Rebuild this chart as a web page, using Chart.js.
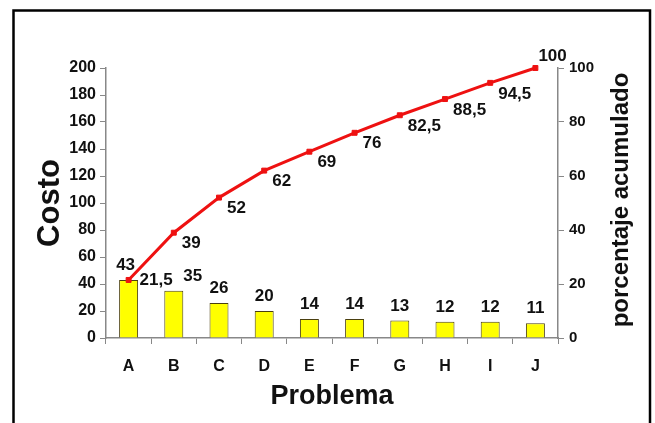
<!DOCTYPE html>
<html>
<head>
<meta charset="utf-8">
<script src="https://cdn.jsdelivr.net/npm/chart.js@4"></script>
<style>
  html, body { margin: 0; padding: 0; background: #fff; }
  #wrap { width: 655px; height: 423px; position: relative; }
</style>
</head>
<body>
<div id="wrap"><canvas id="c" width="655" height="423"></canvas></div>
<script>
// ---- data ----
const categories = ['A', 'B', 'C', 'D', 'E', 'F', 'G', 'H', 'I', 'J'];
const costValues = [43, 35, 26, 20, 14, 14, 13, 12, 12, 11];
const cumulativePercent = [21.5, 39, 52, 62, 69, 76, 82.5, 88.5, 94.5, 100];
const leftTicks = [0, 20, 40, 60, 80, 100, 120, 140, 160, 180, 200];
const rightTicks = [0, 20, 40, 60, 80, 100];
const xTitle = 'Problema';
const leftTitle = 'Costo';
const rightTitle = 'porcentaje acumulado';

const FONT = '"Liberation Sans", Arial, sans-serif';
const fmt = v => String(v).replace('.', ',');

// layout targets
const AREA = { left: 106, right: 558, top: 68, bottom: 338 };
const W = 655, H = 423;

const labelPlugin = {
  id: 'valueLabels',
  afterDatasetsDraw(chart, args, opts) {
    const ctx = chart.ctx;
    ctx.save();
    ctx.fillStyle = '#111';
    ctx.font = 'bold 17px ' + FONT;
    // bar labels
    const barMeta = chart.getDatasetMeta(1);
    ctx.textAlign = 'center';
    ctx.textBaseline = 'bottom';
    barMeta.data.forEach((el, i) => {
      const dx = (opts.barDx && opts.barDx[i]) || 0;
      ctx.fillText(fmt(costValues[i]), el.x + dx, el.y - 6);
    });
    // line labels
    const lineMeta = chart.getDatasetMeta(0);
    ctx.textAlign = 'left';
    ctx.textBaseline = 'middle';
    lineMeta.data.forEach((el, i) => {
      let dx = 8, dy = 11;
      if (i === 0) { dx = 11; dy = 0; }
      if (i === lineMeta.data.length - 1) { dx = 3; dy = -12; }
      ctx.fillText(fmt(cumulativePercent[i]), el.x + dx, el.y + dy);
    });
    // right axis title, reading bottom-to-top
    const yR = chart.scales.yR;
    ctx.save();
    ctx.translate(opts.rightTitleX, (yR.top + yR.bottom) / 2 - 3);
    ctx.rotate(-Math.PI / 2);
    ctx.textAlign = 'center';
    ctx.textBaseline = 'middle';
    ctx.font = 'bold 24px ' + FONT;
    ctx.fillText(rightTitle, 0, 0);
    ctx.restore();
    ctx.restore();
  }
};

const borderPlugin = {
  id: 'frame',
  afterDraw(chart) {
    const ctx = chart.ctx;
    ctx.save();
    ctx.strokeStyle = '#000';
    ctx.lineWidth = 2.5;
    ctx.strokeRect(13.5, 10.5, 636.5, 430);
    ctx.restore();
  }
};

new Chart(document.getElementById('c'), {
  data: {
    labels: categories,
    datasets: [
      {
        type: 'line',
        data: cumulativePercent,
        yAxisID: 'yR',
        borderColor: '#ee1111',
        backgroundColor: '#ee1111',
        borderWidth: 3,
        pointStyle: 'rect',
        pointRadius: 3.5,
        pointBorderWidth: 1,
        tension: 0,
        clip: false,
        order: 0
      },
      {
        type: 'bar',
        data: costValues,
        yAxisID: 'yL',
        backgroundColor: '#ffff00',
        borderColor: '#4a3f10',
        borderWidth: 1,
        barPercentage: 0.42,
        categoryPercentage: 1,
        order: 1
      }
    ]
  },
  options: {
    responsive: false,
    animation: false,
    events: [],
    layout: { padding: { top: AREA.top, left: 0, right: 0, bottom: 0 } },
    plugins: {
      legend: { display: false },
      tooltip: { enabled: false },
      valueLabels: { barDx: [-3, 19, 0, 0, 0, 0, 0, 0, 0, 0], rightTitleX: 621 }
    },
    scales: {
      x: {
        position: 'bottom',
        grid: { display: true, drawOnChartArea: false, drawTicks: true, tickLength: 6, color: '#888', offset: true },
        border: { display: true, color: '#888', width: 1.5 },
        ticks: { color: '#111', font: { family: FONT, size: 16, weight: 'bold' }, padding: 13, maxRotation: 0 },
        title: { display: true, text: xTitle, color: '#111', font: { family: FONT, size: 27, weight: 'bold' }, padding: { top: 0, bottom: 10 } },
        afterFit(s) { s.height = H - AREA.bottom; }
      },
      yL: {
        position: 'left',
        min: 0, max: 200,
        afterBuildTicks(s) { s.ticks = leftTicks.map(v => ({ value: v })); },
        grid: { display: true, drawOnChartArea: false, drawTicks: true, tickLength: 6, color: '#888' },
        border: { display: true, color: '#888', width: 1.5 },
        ticks: { color: '#111', font: { family: FONT, size: 16, weight: 'bold' }, padding: 4 },
        title: { display: true, text: leftTitle, color: '#111', font: { family: FONT, size: 31, weight: 'bold', lineHeight: 1 }, padding: { top: 35, bottom: 0 } },
        afterFit(s) { s.width = AREA.left; }
      },
      yR: {
        position: 'right',
        min: 0, max: 100,
        afterBuildTicks(s) { s.ticks = rightTicks.map(v => ({ value: v })); },
        grid: { display: true, drawOnChartArea: false, drawTicks: true, tickLength: 6, color: '#888' },
        border: { display: true, color: '#888', width: 1.5 },
        ticks: { color: '#111', font: { family: FONT, size: 15, weight: 'bold' }, padding: 5 },
        title: { display: false },
        afterFit(s) { s.width = W - AREA.right; }
      }
    }
  },
  plugins: [labelPlugin, borderPlugin]
});
</script>
</body>
</html>
